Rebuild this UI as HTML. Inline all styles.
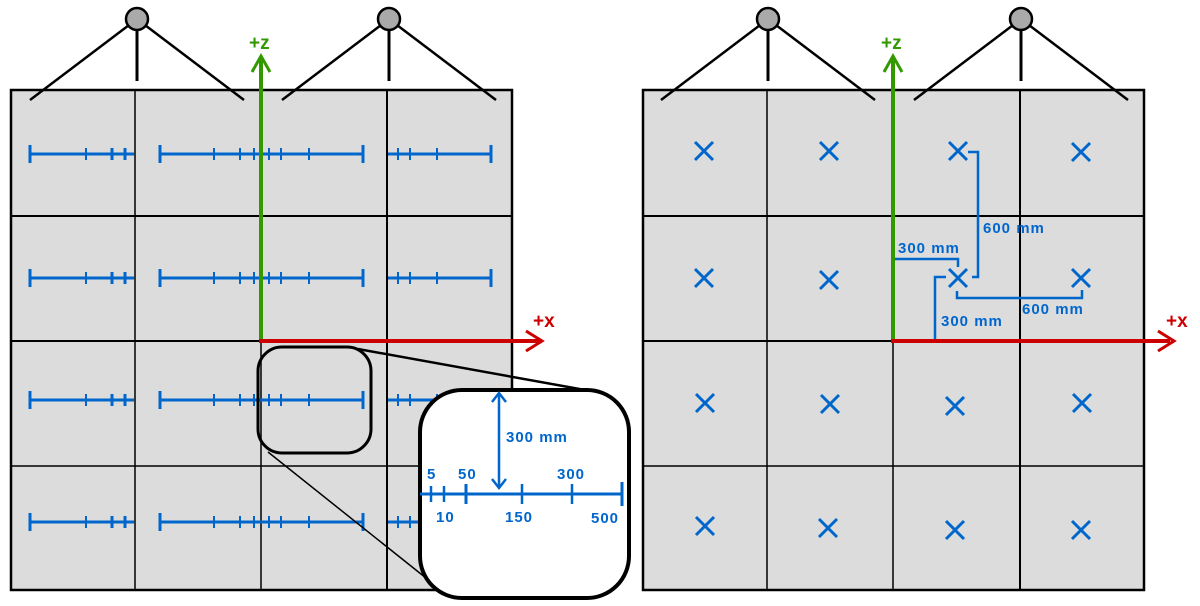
<!DOCTYPE html>
<html><head><meta charset="utf-8"><style>
html,body{margin:0;padding:0;background:#fff;}
svg{display:block;}
text{font-family:"Liberation Sans",sans-serif;font-weight:bold;font-size:15px;letter-spacing:1px;fill:#0066cc;}
text.ax{font-size:19px;letter-spacing:0;}
</style></head><body>
<svg width="1200" height="606" viewBox="0 0 1200 606" xmlns="http://www.w3.org/2000/svg">
<defs>
<g id="bars" stroke="#0066cc" fill="none">
  <line x1="30" y1="0" x2="134" y2="0" stroke-width="3"/>
  <line x1="30" y1="-9" x2="30" y2="9" stroke-width="3"/>
  <line x1="86" y1="-6" x2="86" y2="6" stroke-width="2"/>
  <line x1="112" y1="-6" x2="112" y2="6" stroke-width="3"/>
  <line x1="125" y1="-6" x2="125" y2="6" stroke-width="3"/>
  <line x1="160" y1="0" x2="363" y2="0" stroke-width="3"/>
  <line x1="160" y1="-9" x2="160" y2="9" stroke-width="3"/>
  <line x1="363" y1="-9" x2="363" y2="9" stroke-width="3"/>
  <line x1="214" y1="-6" x2="214" y2="6" stroke-width="2"/>
  <line x1="240" y1="-6" x2="240" y2="6" stroke-width="2"/>
  <line x1="254" y1="-6" x2="254" y2="6" stroke-width="2"/>
  <line x1="269" y1="-6" x2="269" y2="6" stroke-width="2"/>
  <line x1="281" y1="-6" x2="281" y2="6" stroke-width="2"/>
  <line x1="309" y1="-6" x2="309" y2="6" stroke-width="2"/>
  <line x1="388" y1="0" x2="491" y2="0" stroke-width="3"/>
  <line x1="398" y1="-6" x2="398" y2="6" stroke-width="2"/>
  <line x1="410" y1="-6" x2="410" y2="6" stroke-width="2"/>
  <line x1="437" y1="-6" x2="437" y2="6" stroke-width="2"/>
  <line x1="491" y1="-9" x2="491" y2="9" stroke-width="3"/>
</g>
<g id="x" stroke="#0066cc" stroke-width="3"><line x1="-9" y1="-9" x2="9" y2="9"/><line x1="9" y1="-9" x2="-9" y2="9"/></g>
<g id="pulley" stroke="#000" fill="none">
  <line x1="0" y1="0" x2="-107" y2="81" stroke-width="2.5"/>
  <line x1="0" y1="0" x2="107" y2="81" stroke-width="2.5"/>
  <line x1="0" y1="0" x2="0" y2="62" stroke-width="3"/>
  <circle cx="0" cy="0" r="11" fill="#aaa" stroke-width="2.5"/>
</g>
</defs>

<rect x="11" y="90" width="501" height="500" fill="#dcdcdc" stroke="#000" stroke-width="2.5"/>
<g stroke="#000" stroke-width="1.5">
<line x1="135" y1="90" x2="135" y2="590"/>
<line x1="261" y1="90" x2="261" y2="590"/>
<line x1="387" y1="90" x2="387" y2="590" stroke-width="2"/>
<line x1="11" y1="216" x2="512" y2="216" stroke-width="2"/>
<line x1="11" y1="341" x2="512" y2="341" stroke-width="2"/>
<line x1="11" y1="466" x2="512" y2="466"/>
</g>
<use href="#bars" y="154"/>
<use href="#bars" y="278"/>
<use href="#bars" y="400"/>
<use href="#bars" y="522"/>
<use href="#pulley" x="137" y="19"/>
<use href="#pulley" x="389" y="19"/>

<line x1="261" y1="341" x2="261" y2="58" stroke="#339900" stroke-width="4"/>
<polyline points="252,72 261,56 270,72" fill="none" stroke="#339900" stroke-width="3"/>
<text class="ax" x="249" y="49" style="fill:#339900">+z</text>
<line x1="259" y1="341" x2="540" y2="341" stroke="#cc0000" stroke-width="4"/>
<polyline points="526,331 542,341 526,351" fill="none" stroke="#cc0000" stroke-width="3"/>
<text class="ax" x="533" y="327" style="fill:#cc0000">+x</text>

<rect x="258" y="347" width="113" height="106" rx="24" fill="none" stroke="#000" stroke-width="3"/>
<line x1="358" y1="349" x2="585" y2="390" stroke="#000" stroke-width="2.5"/>
<line x1="268" y1="452" x2="436" y2="586" stroke="#000" stroke-width="1.5"/>
<rect x="420" y="390" width="209" height="208" rx="42" fill="#fff" stroke="#000" stroke-width="4"/>
<g stroke="#0066cc" fill="none" stroke-width="2.5">
<line x1="499" y1="393" x2="499" y2="488"/>
<polyline points="492,402 499,393 506,402"/>
<polyline points="492,479 499,488 506,479"/>
<line x1="420" y1="494" x2="622" y2="494" stroke-width="3"/>
<line x1="431" y1="486" x2="431" y2="502"/>
<line x1="444" y1="486" x2="444" y2="502"/>
<line x1="466" y1="484" x2="466" y2="504" stroke-width="3"/>
<line x1="522" y1="484" x2="522" y2="504"/>
<line x1="572" y1="484" x2="572" y2="504"/>
<line x1="622" y1="482" x2="622" y2="506" stroke-width="3"/>
</g>
<text x="506" y="442">300 mm</text>
<text x="427" y="479">5</text>
<text x="458" y="479">50</text>
<text x="557" y="479">300</text>
<text x="436" y="522">10</text>
<text x="505" y="522">150</text>
<text x="591" y="523">500</text>

<rect x="643" y="90" width="501" height="500" fill="#dcdcdc" stroke="#000" stroke-width="2.5"/>
<g stroke="#000" stroke-width="1.5">
<line x1="767" y1="90" x2="767" y2="590"/>
<line x1="893" y1="90" x2="893" y2="590"/>
<line x1="1020" y1="90" x2="1020" y2="590" stroke-width="2"/>
<line x1="643" y1="216" x2="1144" y2="216" stroke-width="2"/>
<line x1="643" y1="341" x2="1144" y2="341" stroke-width="2"/>
<line x1="643" y1="466" x2="1144" y2="466"/>
</g>
<use href="#pulley" x="768" y="19"/>
<use href="#pulley" x="1021" y="19"/>

<use href="#x" x="704" y="151"/><use href="#x" x="829" y="151"/><use href="#x" x="958" y="151"/><use href="#x" x="1081" y="152"/>
<use href="#x" x="704" y="278"/><use href="#x" x="829" y="280"/><use href="#x" x="958" y="278"/><use href="#x" x="1081" y="278"/>
<use href="#x" x="705" y="403"/><use href="#x" x="830" y="404"/><use href="#x" x="955" y="406"/><use href="#x" x="1082" y="403"/>
<use href="#x" x="705" y="526"/><use href="#x" x="828" y="528"/><use href="#x" x="955" y="530"/><use href="#x" x="1081" y="530"/>

<g stroke="#0066cc" fill="none" stroke-width="2.5">
<polyline points="968,152 978,152 978,277 972,277"/>
<polyline points="893,259 958,259 958,267"/>
<polyline points="935,341 935,277 946,277"/>
<polyline points="957,291 957,298 1082,298 1082,290"/>
</g>
<text x="983" y="233">600 mm</text>
<text x="898" y="253">300 mm</text>
<text x="941" y="326">300 mm</text>
<text x="1022" y="314">600 mm</text>

<line x1="893" y1="341" x2="893" y2="58" stroke="#339900" stroke-width="4"/>
<polyline points="884,72 893,56 902,72" fill="none" stroke="#339900" stroke-width="3"/>
<text class="ax" x="881" y="49" style="fill:#339900">+z</text>
<line x1="891" y1="341" x2="1170" y2="341" stroke="#cc0000" stroke-width="4"/>
<polyline points="1158,331 1174,341 1158,351" fill="none" stroke="#cc0000" stroke-width="3"/>
<text class="ax" x="1166" y="327" style="fill:#cc0000">+x</text>
</svg>
</body></html>
